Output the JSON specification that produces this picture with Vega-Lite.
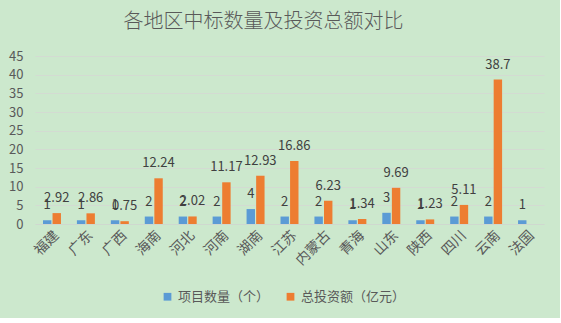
{
  "$schema": "https://vega.github.io/schema/vega-lite/v6.json",
  "width": 509,
  "height": 168,
  "padding": {"left": 8, "top": 12, "right": 16, "bottom": 14},
  "background": "#cce8cd",
  "config": {
    "view": {"stroke": null},
    "font": "Noto Sans CJK SC",
    "axis": {"labelColor": "#595959", "labelFont": "Noto Sans CJK SC"}
  },
  "title": {
    "text": "各地区中标数量及投资总额对比",
    "fontSize": 20,
    "fontWeight": 300,
    "color": "#595959",
    "anchor": "start",
    "dx": 115,
    "offset": 18
  },
  "data": {
    "values": [
      {"region": "福建", "series": "项目数量（个）", "value": 1},
      {"region": "福建", "series": "总投资额（亿元）", "value": 2.92},
      {"region": "广东", "series": "项目数量（个）", "value": 1},
      {"region": "广东", "series": "总投资额（亿元）", "value": 2.86},
      {"region": "广西", "series": "项目数量（个）", "value": 1},
      {"region": "广西", "series": "总投资额（亿元）", "value": 0.75},
      {"region": "海南", "series": "项目数量（个）", "value": 2},
      {"region": "海南", "series": "总投资额（亿元）", "value": 12.24},
      {"region": "河北", "series": "项目数量（个）", "value": 2},
      {"region": "河北", "series": "总投资额（亿元）", "value": 2.02},
      {"region": "河南", "series": "项目数量（个）", "value": 2},
      {"region": "河南", "series": "总投资额（亿元）", "value": 11.17},
      {"region": "湖南", "series": "项目数量（个）", "value": 4},
      {"region": "湖南", "series": "总投资额（亿元）", "value": 12.93},
      {"region": "江苏", "series": "项目数量（个）", "value": 2},
      {"region": "江苏", "series": "总投资额（亿元）", "value": 16.86},
      {"region": "内蒙古", "series": "项目数量（个）", "value": 2},
      {"region": "内蒙古", "series": "总投资额（亿元）", "value": 6.23},
      {"region": "青海", "series": "项目数量（个）", "value": 1},
      {"region": "青海", "series": "总投资额（亿元）", "value": 1.34},
      {"region": "山东", "series": "项目数量（个）", "value": 3},
      {"region": "山东", "series": "总投资额（亿元）", "value": 9.69},
      {"region": "陕西", "series": "项目数量（个）", "value": 1},
      {"region": "陕西", "series": "总投资额（亿元）", "value": 1.23},
      {"region": "四川", "series": "项目数量（个）", "value": 2},
      {"region": "四川", "series": "总投资额（亿元）", "value": 5.11},
      {"region": "云南", "series": "项目数量（个）", "value": 2},
      {"region": "云南", "series": "总投资额（亿元）", "value": 38.7},
      {"region": "法国", "series": "项目数量（个）", "value": 1},
      {"region": "法国", "series": "总投资额（亿元）", "value": null}
    ]
  },
  "encoding": {
    "x": {
      "field": "region",
      "type": "nominal",
      "sort": null,
      "scale": {"paddingInner": 0.47, "paddingOuter": 0.235},
      "axis": {
        "title": null,
        "labelAngle": -45,
        "labelFontSize": 14,
        "labelPadding": 4,
        "ticks": false,
        "domainColor": "#cfd8cf",
        "grid": false
      }
    },
    "xOffset": {
      "field": "series",
      "type": "nominal",
      "sort": ["项目数量（个）", "总投资额（亿元）"],
      "scale": {"paddingInner": 0.12}
    },
    "y": {
      "field": "value",
      "type": "quantitative",
      "scale": {"domain": [0, 45]},
      "axis": {
        "title": null,
        "values": [0, 5, 10, 15, 20, 25, 30, 35, 40, 45],
        "labelFontSize": 13,
        "labelPadding": 12,
        "ticks": false,
        "domain": false,
        "gridColor": "#d3dbd2",
        "gridWidth": 1
      }
    }
  },
  "layer": [
    {
      "mark": {"type": "bar"},
      "encoding": {
        "color": {
          "field": "series",
          "type": "nominal",
          "sort": ["项目数量（个）", "总投资额（亿元）"],
          "scale": {
            "domain": ["项目数量（个）", "总投资额（亿元）"],
            "range": ["#5b9bd5", "#ed7d31"]
          },
          "legend": {
            "title": null,
            "orient": "none",
            "legendX": 126,
            "legendY": 234,
            "direction": "horizontal",
            "symbolType": "square",
            "symbolSize": 60,
            "symbolStrokeWidth": 0,
            "labelFontSize": 13,
            "labelColor": "#595959",
            "columnPadding": 14,
            "labelFont": "Noto Sans CJK SC"
          }
        }
      }
    },
    {
      "mark": {"type": "text", "baseline": "middle", "dy": -15, "fontSize": 13, "color": "#404040"},
      "encoding": {
        "text": {"field": "value", "type": "quantitative"}
      }
    }
  ]
}
